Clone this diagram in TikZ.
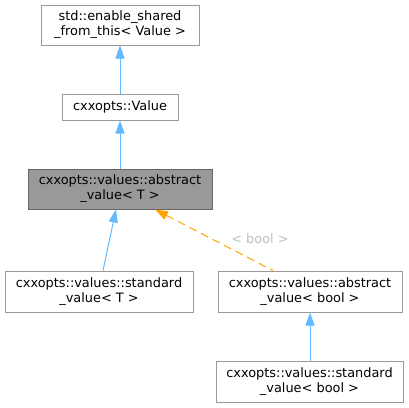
\documentclass[tikz,border=0pt]{standalone}
\usepackage{fontspec}
\setmainfont{DejaVu Sans}
\usetikzlibrary{arrows.meta}
\definecolor{edgeblue}{HTML}{63B8FF}
\definecolor{edgeorange}{HTML}{FFA500}
\definecolor{boxborder}{HTML}{999999}
\definecolor{hlfill}{HTML}{999999}
\definecolor{hlborder}{HTML}{666666}
\definecolor{lblgray}{HTML}{BFBFBF}
\tikzset{
  cls/.style={draw=boxborder, line width=1pt, fill=white, inner sep=0pt, align=center,
    font=\fontsize{12.9}{15}\selectfont, text=black},
  hl/.style={cls, fill=hlfill, draw=hlborder},
  inh/.style={draw=edgeblue, line width=1pt, {Triangle[length=13pt,width=9pt,fill=edgeblue]}-},
  tmpl/.style={draw=edgeorange, line width=1pt, dash pattern=on 8pt off 5pt, {Triangle[length=13pt,width=9pt,fill=edgeorange]}-},
  lbl/.style={text=lblgray, font=\fontsize{12.9}{15}\selectfont},
}
\begin{document}
\begin{tikzpicture}[x=1pt,y=-1pt]
\useasboundingbox (0,0) rectangle (409,407);
\node[cls, minimum width=158pt, minimum height=40pt] (A) at (120,25) {std::enable\_shared\\\_from\_this< Value >};
\node[cls, minimum width=116pt, minimum height=26pt] (B) at (120,107) {cxxopts::Value};
\node[hl, minimum width=184pt, minimum height=40pt] (C) at (120,189) {cxxopts::values::abstract\\\_value< T >};
\node[cls, minimum width=188pt, minimum height=41pt] (D) at (99,291.5) {cxxopts::values::standard\\\_value< T >};
\node[cls, minimum width=184pt, minimum height=41pt] (E) at (310,291.5) {cxxopts::values::abstract\\\_value< bool >};
\node[cls, minimum width=187pt, minimum height=41pt] (F) at (309.5,381.5) {cxxopts::values::standard\\\_value< bool >};
\draw[inh] (A.south) -- (B.north);
\draw[inh] (B.south) -- (C.north);
\draw[inh] ([xshift=-4pt]C.south) -- ([xshift=4pt]D.north);
\draw[tmpl] ([xshift=35pt]C.south) -- ([xshift=-37pt]E.north);
\node[lbl] (L) at (260,239) {< bool >};
\draw[inh] ([xshift=0pt]E.south) -- ([xshift=0.5pt]F.north);
\end{tikzpicture}
\end{document}
